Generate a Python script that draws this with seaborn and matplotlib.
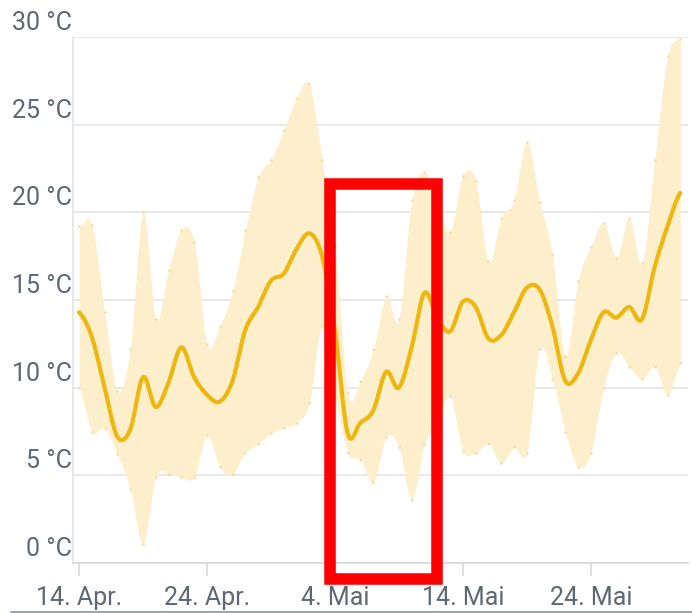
import matplotlib
matplotlib.use("Agg")
import matplotlib.dates as mdates
import matplotlib.pyplot as plt
import numpy as np
import pandas as pd
import seaborn as sns
from matplotlib.lines import Line2D
from matplotlib.patches import Rectangle

# Daily temperatures, 14. Apr. - 31. Mai
dates = pd.date_range("2024-04-14", "2024-05-31", freq="D")
t_max = [19.2, 19.3, 14.3, 9.8, 12.2, 20.0, 13.9, 16.7, 19.0, 18.3,
         12.5, 13.5, 15.5, 19.0, 22.0, 23.0, 24.7, 26.5, 27.3, 23.0,
         18.1, 9.7, 10.4, 12.2, 15.2, 13.9, 20.7, 22.3, 20.5, 18.9,
         22.1, 21.8, 17.2, 19.7, 20.7, 24.0, 20.6, 17.6, 11.8, 16.1,
         18.0, 19.4, 17.4, 19.7, 17.1, 23.0, 28.9, 29.9]
t_min = [10.0, 7.5, 7.7, 6.2, 4.2, 1.1, 4.9, 5.1, 4.9, 4.9,
         7.3, 5.5, 5.1, 6.3, 6.8, 7.4, 7.7, 8.0, 9.1, 13.5,
         9.5, 6.3, 5.9, 4.6, 7.2, 6.6, 3.6, 6.8, 8.0, 9.5,
         6.4, 6.3, 6.8, 5.7, 6.6, 6.3, 12.2, 10.5, 7.5, 5.5,
         6.3, 10.0, 12.0, 11.2, 10.5, 11.2, 9.6, 11.4]
t_mean = [14.3, 12.9, 10.0, 7.2, 7.6, 10.6, 8.9, 10.3, 12.3, 10.6,
          9.6, 9.2, 10.4, 13.3, 14.6, 16.1, 16.5, 17.9, 18.8, 17.5,
          13.3, 7.4, 8.0, 8.7, 10.9, 10.0, 12.3, 15.4, 14.0, 13.2,
          14.9, 14.6, 12.8, 13.0, 14.3, 15.7, 15.6, 13.5, 10.4, 10.8,
          12.7, 14.3, 14.0, 14.6, 13.9, 16.9, 19.2, 21.1]

tick_dates = ["2024-04-14", "2024-04-24", "2024-05-04", "2024-05-14", "2024-05-24"]
tick_labels = ["14. Apr.", "24. Apr.", "4. Mai", "14. Mai", "24. Mai"]
y_ticks = [0, 5, 10, 15, 20, 25, 30]

LINE = "#edb70f"
BAND = "#fdefcb"
GRID = "#e2e2e2"
TEXT = "#5d6872"


def spline(x, y, n=24):
    """Catmull-Rom curve through the points, like a spline series."""
    x = np.asarray(x, float)
    y = np.asarray(y, float)
    p = np.concatenate([[y[0]], y, [y[-1]]])
    t = np.linspace(0, 1, n, endpoint=False)
    xs, ys = [], []
    for i in range(len(y) - 1):
        p0, p1, p2, p3 = p[i:i + 4]
        ys.append(0.5 * (2 * p1 + (p2 - p0) * t
                         + (2 * p0 - 5 * p1 + 4 * p2 - p3) * t ** 2
                         + (3 * p1 - p0 - 3 * p2 + p3) * t ** 3))
        xs.append(x[i] + (x[i + 1] - x[i]) * t)
    xs.append([x[-1]])
    ys.append([y[-1]])
    return np.concatenate(xs), np.concatenate(ys)


sns.set_theme(style="white")
plt.rcParams["font.family"] = ["Roboto", "DejaVu Sans"]

fig = plt.figure(figsize=(6.92, 6.13), dpi=100)
ax = fig.add_axes([73 / 692, 1 - 563 / 613, 615 / 692, 526 / 613])

xnum = mdates.date2num(dates)
bx, bhi = spline(xnum, t_max)
_, blo = spline(xnum, t_min)
mx, my = spline(xnum, t_mean)

# Range band
ax.fill_between(bx, blo, bhi, color=BAND, lw=0, zorder=1)
ax.scatter(xnum, t_max, s=3, color="#f4d995", lw=0, zorder=2)
ax.scatter(xnum, t_min, s=3, color="#f4d995", lw=0, zorder=2)

# Mean line
sns.lineplot(x=mx, y=my, ax=ax, color=LINE, lw=3.0, zorder=3)

ax.set_xlim(xnum[0] - 0.47, xnum[0] + 47.6)
ax.set_ylim(0, 30)

# Grid and axes
ax.set_yticks(y_ticks)
ax.yaxis.grid(True, color=GRID, lw=1.1, zorder=0)
ax.set_yticklabels([])
ax.tick_params(axis="y", length=0)
for v in y_ticks:
    ax.annotate(f"{v} °C", xy=(0, v), xycoords=("axes fraction", "data"),
                xytext=(-1, 7), textcoords="offset pixels",
                ha="right", va="baseline", fontsize=18, color=TEXT)

ax.set_xticks(mdates.date2num(pd.to_datetime(tick_dates)))
ax.set_xticklabels(tick_labels, fontsize=18, color=TEXT)
ax.tick_params(axis="x", length=9.5, width=1.1, color="#d6d6d6", pad=7,
               bottom=True, direction="out")

for side in ["top", "right"]:
    ax.spines[side].set_visible(False)
ax.spines["left"].set_color(GRID)
ax.spines["left"].set_linewidth(1.1)
ax.spines["bottom"].set_color("#d6d6d6")
ax.spines["bottom"].set_linewidth(1.1)
ax.set_xlabel("")
ax.set_ylabel("")

# Red highlight box
fig.add_artist(Rectangle((329.5 / 692, 1 - 579 / 613), 107 / 692, 395 / 613,
                         transform=fig.transFigure, fill=False,
                         edgecolor="#ff0000", lw=8.3, zorder=10))

# Separator at the bottom
fig.add_artist(Line2D([11 / 692, 1], [1 - 611.5 / 613] * 2,
                      transform=fig.transFigure, color="#8d939a", lw=1.2))

fig.savefig("out.png", dpi=100)
